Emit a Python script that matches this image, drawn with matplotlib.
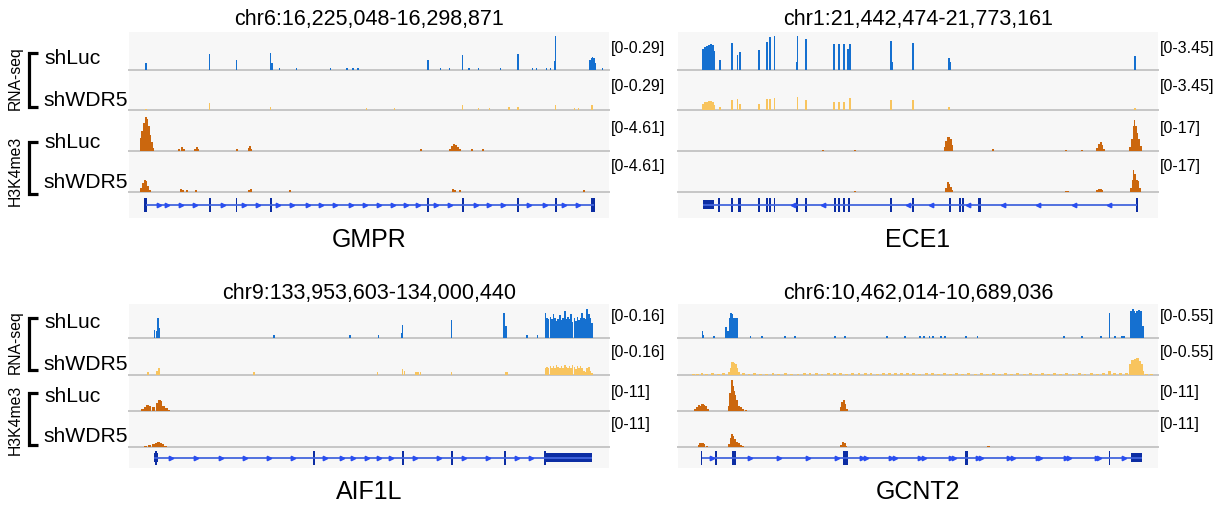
import matplotlib
matplotlib.use("Agg")
import matplotlib.pyplot as plt
from matplotlib.patches import Rectangle

plt.rcParams['font.family'] = ['Liberation Sans', 'DejaVu Sans']

# ---------------- data ----------------
REGIONS = ["chr6:16,225,048-16,298,871", "chr1:21,442,474-21,773,161",
           "chr9:133,953,603-134,000,440", "chr6:10,462,014-10,689,036"]
GENES = ["GMPR", "ECE1", "AIF1L", "GCNT2"]
SAMPLES = ["shLuc", "shWDR5"]
ASSAYS = ["RNA-seq", "H3K4me3"]
RNA_MAX = [0.29, 3.45, 0.16, 0.55]
CHIP_MAX = [4.61, 17, 11, 11]
RNA_LABELS = ["[0-0.29]", "[0-3.45]", "[0-0.16]", "[0-0.55]"]
CHIP_LABELS = ["[0-4.61]", "[0-17]", "[0-11]", "[0-11]"]

# signal tracks: (position in % of window, value)
GMPR_RNA_SHLUC = [(3.5, 0.052), (16.8, 0.122), (22.4, 0.078), (29.5, 0.130), (29.8, 0.05),
                  (31.3, 0.018), (34.9, 0.015), (42.0, 0.015), (45.4, 0.015), (46.7, 0.015),
                  (47.7, 0.015), (62.3, 0.078), (64.9, 0.015), (66.8, 0.015), (69.5, 0.116),
                  (70.8, 0.018), (72.8, 0.016), (77.4, 0.015), (81.0, 0.122), (84.1, 0.016),
                  (84.9, 0.016), (87.0, 0.016), (87.8, 0.018), (88.6, 0.07), (88.9, 0.258),
                  (96.0, 0.08), (96.3, 0.095), (96.6, 0.097), (96.9, 0.09), (97.2, 0.05),
                  (98.7, 0.015)]
GMPR_RNA_SHWDR5 = [(3.5, 0.01), (16.8, 0.049), (29.5, 0.025), (49.5, 0.014), (55.3, 0.014),
                   (69.5, 0.035), (72.8, 0.015), (75.1, 0.015), (79.2, 0.02), (81.0, 0.025),
                   (88.9, 0.038), (92.8, 0.014), (93.6, 0.014), (96.5, 0.035)]
GMPR_CHIP_SHLUC = [(2.5, 1.43), (2.8, 2.3), (3.1, 3.2), (3.5, 3.83), (3.8, 3.6), (4.1, 2.77),
                   (4.4, 1.84), (4.8, 1.0), (5.1, 0.32), (10.5, 0.28), (11.0, 0.46),
                   (11.5, 0.23), (13.7, 0.23), (14.1, 0.46), (14.4, 0.18), (22.4, 0.2),
                   (24.9, 0.37), (25.2, 0.6), (25.5, 0.23), (60.9, 0.18), (66.8, 0.28),
                   (67.2, 0.55), (67.7, 0.78), (68.1, 0.69), (68.5, 0.46), (68.9, 0.23),
                   (71.4, 0.2), (73.8, 0.18)]
GMPR_CHIP_SHWDR5 = [(2.6, 0.46), (3.0, 1.0), (3.3, 1.38), (3.6, 1.29), (4.0, 0.69), (4.3, 0.28),
                    (10.9, 0.37), (11.3, 0.23), (12.1, 0.18), (13.9, 0.18), (25.0, 0.23),
                    (25.4, 0.37), (33.5, 0.2), (67.5, 0.32), (67.9, 0.28), (68.9, 0.18),
                    (94.8, 0.2)]

ECE1_RNA_SHLUC = [(5.3, 1.9), (5.7, 2.07), (6.1, 2.2), (6.5, 2.28), (6.9, 2.35), (7.3, 2.28),
                  (7.6, 1.72), (8.7, 0.93), (11.2, 2.48), (12.4, 1.35), (12.9, 1.66),
                  (16.9, 1.79), (18.5, 2.52), (19.2, 2.97), (20.1, 3.1), (24.7, 0.69),
                  (24.9, 3.1), (26.6, 2.83), (32.5, 2.35), (33.6, 2.35), (34.6, 2.35),
                  (35.5, 1.9), (35.8, 2.35), (44.4, 2.59), (44.6, 0.69), (49.0, 2.48),
                  (56.4, 1.1), (56.7, 0.69), (95.3, 1.24)]
ECE1_RNA_SHWDR5 = [(5.3, 0.52), (5.7, 0.66), (6.1, 0.72), (6.5, 0.76), (6.9, 0.76), (7.3, 0.69),
                   (7.6, 0.41), (8.7, 0.28), (11.2, 0.86), (12.4, 0.97), (12.9, 0.48),
                   (16.9, 0.55), (18.5, 0.93), (19.2, 0.97), (20.1, 1.04), (24.9, 1.1),
                   (26.6, 0.83), (32.5, 0.69), (33.6, 0.69), (34.6, 0.69), (35.8, 1.0),
                   (44.4, 0.83), (49.0, 0.86), (56.4, 0.28), (95.3, 0.21)]
ECE1_CHIP_SHLUC = [(30.3, 0.5), (36.9, 0.5), (55.6, 1.7), (55.9, 4.25), (56.2, 5.6),
                   (56.5, 5.8), (56.8, 5.1), (57.1, 2.55), (65.7, 0.85), (80.9, 0.55),
                   (84.1, 0.55), (87.3, 1.36), (87.8, 3.06), (88.1, 3.57), (88.4, 2.55),
                   (88.8, 1.0), (94.1, 1.7), (94.5, 5.1), (94.9, 10.2), (95.1, 12.75),
                   (95.4, 10.2), (95.7, 7.65), (96.1, 5.1), (96.4, 2.04)]
ECE1_CHIP_SHWDR5 = [(36.9, 0.45), (55.9, 1.7), (56.2, 4.25), (56.5, 3.4), (56.8, 2.04),
                    (57.1, 0.85), (80.9, 0.55), (81.3, 0.55), (87.3, 0.68), (87.8, 1.2),
                    (88.1, 1.2), (88.4, 0.85), (94.4, 1.7), (94.7, 5.1), (94.9, 9.2),
                    (95.3, 7.65), (95.6, 5.1), (95.9, 4.76), (96.2, 1.7)]

AIF1L_RNA_SHLUC = [(5.3, 0.04), (5.7, 0.035), (6.1, 0.096), (6.3, 0.048), (30.2, 0.014),
                   (46.1, 0.014), (52.0, 0.014), (56.8, 0.024), (57.0, 0.059), (67.2, 0.086),
                   (78.1, 0.117), (78.5, 0.056), (82.9, 0.014), (85.1, 0.014),
                   (86.8, 0.12), (87.1, 0.096), (87.4, 0.088), (87.8, 0.099), (88.1, 0.088),
                   (88.4, 0.112), (88.8, 0.093), (89.1, 0.08), (89.4, 0.088), (89.8, 0.109),
                   (90.1, 0.083), (90.4, 0.096), (90.8, 0.125), (91.1, 0.09), (91.4, 0.099),
                   (91.8, 0.088), (92.1, 0.115), (92.4, 0.077), (92.8, 0.096), (93.1, 0.08),
                   (93.4, 0.099), (93.8, 0.083), (94.1, 0.093), (94.4, 0.12), (94.8, 0.096),
                   (95.1, 0.088), (95.4, 0.136), (95.8, 0.112), (96.1, 0.096), (96.4, 0.072)]
AIF1L_RNA_SHWDR5 = [(3.9, 0.014), (5.8, 0.019), (6.3, 0.03), (26.1, 0.014), (51.8, 0.014),
                    (57.0, 0.024), (57.4, 0.016), (59.8, 0.014), (60.2, 0.014), (60.7, 0.014),
                    (67.2, 0.012), (78.4, 0.014), (78.7, 0.014),
                    (86.8, 0.032), (87.1, 0.035), (87.4, 0.029), (87.8, 0.04), (88.1, 0.032),
                    (88.4, 0.037), (88.8, 0.03), (89.1, 0.042), (89.4, 0.034), (89.8, 0.029),
                    (90.1, 0.038), (90.4, 0.032), (90.8, 0.043), (91.1, 0.035), (91.4, 0.03),
                    (91.8, 0.04), (92.1, 0.032), (92.4, 0.042), (92.8, 0.035), (93.1, 0.027),
                    (93.4, 0.037), (93.8, 0.032), (94.1, 0.04), (94.4, 0.03), (94.8, 0.016),
                    (95.1, 0.013), (95.4, 0.032), (95.8, 0.035), (96.1, 0.016), (96.4, 0.01)]
AIF1L_CHIP_SHLUC = [(2.8, 0.55), (3.3, 1.32), (3.9, 1.98), (4.4, 1.43), (5.1, 1.32), (5.8, 2.42),
                    (6.3, 3.3), (6.7, 3.08), (7.2, 1.65), (7.8, 0.88), (8.2, 0.33)]
AIF1L_CHIP_SHWDR5 = [(3.5, 0.33), (4.3, 0.55), (5.1, 0.77), (5.6, 1.21), (6.1, 1.54),
                     (6.6, 1.32), (7.1, 0.77), (7.6, 0.33)]

GCNT2_RNA_SHLUC = [(5.1, 0.12), (5.3, 0.055), (7.5, 0.03), (10.0, 0.18), (10.4, 0.11),
                   (10.8, 0.33), (11.1, 0.41), (11.3, 0.385), (11.6, 0.33), (12.0, 0.32),
                   (12.3, 0.33), (15.1, 0.03), (17.5, 0.03), (22.3, 0.03), (24.3, 0.03),
                   (32.7, 0.03), (34.8, 0.03), (43.6, 0.03), (47.2, 0.03), (50.4, 0.03),
                   (51.2, 0.03), (52.4, 0.03), (53.2, 0.03), (54.8, 0.03), (55.6, 0.03),
                   (60.0, 0.03), (62.4, 0.03), (80.5, 0.03), (84.1, 0.03), (88.1, 0.03),
                   (89.9, 0.41), (91.0, 0.03), (92.5, 0.03), (92.9, 0.03), (94.3, 0.44),
                   (94.7, 0.47), (95.1, 0.44), (95.4, 0.41), (95.7, 0.43), (96.1, 0.46),
                   (96.5, 0.44), (96.8, 0.19)]
GCNT2_RNA_SHWDR5 = [(3.2, 0.016), (4.0, 0.020), (5.0, 0.024), (6.0, 0.020), (7.2, 0.028),
                    (8.4, 0.020), (9.5, 0.024), (10.8, 0.05), (11.1, 0.11), (11.3, 0.20),
                    (11.6, 0.18), (12.0, 0.165), (12.3, 0.11), (12.7, 0.04), (13.6, 0.024),
                    (14.8, 0.020), (16.0, 0.024), (17.2, 0.020), (18.5, 0.016), (19.8, 0.024),
                    (21.0, 0.020), (22.4, 0.024), (23.7, 0.020), (25.0, 0.016), (26.3, 0.024),
                    (27.5, 0.028), (28.8, 0.024), (30.0, 0.020), (31.3, 0.024), (32.6, 0.028),
                    (33.9, 0.024), (35.1, 0.020), (36.4, 0.024), (37.7, 0.028), (39.0, 0.024),
                    (40.2, 0.024), (41.5, 0.020), (42.8, 0.028), (44.0, 0.024), (45.3, 0.024),
                    (46.6, 0.028), (47.9, 0.024), (49.1, 0.024), (50.4, 0.020), (51.7, 0.028),
                    (53.0, 0.024), (54.2, 0.020), (55.5, 0.024), (56.8, 0.020), (58.1, 0.024),
                    (59.3, 0.020), (60.6, 0.024), (61.9, 0.020), (63.2, 0.024), (64.4, 0.016),
                    (65.7, 0.024), (67.0, 0.020), (68.3, 0.024), (69.5, 0.020), (70.8, 0.024),
                    (72.1, 0.020), (73.4, 0.024), (74.6, 0.020), (75.9, 0.024), (77.2, 0.020),
                    (78.5, 0.024), (79.7, 0.020), (81.0, 0.024), (82.3, 0.020), (83.6, 0.024),
                    (84.8, 0.020), (86.1, 0.024), (87.4, 0.020), (88.7, 0.028), (89.9, 0.066),
                    (91.0, 0.024), (92.2, 0.028), (93.4, 0.035), (94.3, 0.165), (94.7, 0.22),
                    (95.1, 0.19), (95.4, 0.24), (95.7, 0.25), (96.1, 0.21), (96.5, 0.165),
                    (96.8, 0.055), (97.6, 0.020), (98.6, 0.020)]
GCNT2_CHIP_SHLUC = [(3.5, 0.55), (3.9, 1.32), (4.3, 1.98), (4.7, 1.65), (5.1, 2.09), (5.5, 1.87),
                    (5.9, 1.54), (6.3, 0.55), (10.7, 1.65), (10.9, 5.5), (11.2, 9.35),
                    (11.4, 7.7), (11.6, 6.05), (11.9, 4.95), (12.2, 3.3), (12.7, 1.65),
                    (13.2, 1.1), (13.6, 0.66), (14.1, 0.33), (33.9, 1.1), (34.2, 2.75),
                    (34.5, 3.3), (34.8, 2.2), (35.1, 0.55)]
GCNT2_CHIP_SHWDR5 = [(4.3, 0.66), (4.7, 1.1), (5.1, 1.1), (5.5, 0.99), (6.0, 0.44), (10.7, 0.88),
                     (11.0, 2.75), (11.2, 4.07), (11.5, 3.3), (11.9, 2.42), (12.3, 1.65),
                     (12.7, 1.1), (13.2, 0.55), (13.5, 0.33), (34.0, 0.66), (34.3, 1.54),
                     (34.7, 1.32), (35.0, 0.44), (64.7, 0.3)]

# gene models: span, strand, exons (start%, end%, kind c=coding u=utr), intron arrows
GMPR_SPAN, GMPR_STRAND = (3.5, 96.9), ">"
GMPR_EXONS = [(3.2, 3.8, "c"), (16.6, 17.0, "c"), (22.2, 22.6, "c"), (29.3, 29.7, "c"),
              (62.1, 62.5, "c"), (69.3, 69.7, "c"), (80.8, 81.2, "c"), (88.7, 89.1, "c"),
              (96.2, 97.0, "c")]
GMPR_ARROWS = [6.3, 8.0, 10.9, 13.7, 19.5, 24.0, 26.9, 31.0, 33.9, 37.2, 40.1, 43.0, 46.3,
               49.1, 52.0, 54.9, 57.8, 60.2, 64.0, 66.8, 72.2, 75.1, 77.9, 83.3, 86.6, 90.7,
               93.6]
ECE1_SPAN, ECE1_STRAND = (5.3, 95.6), "<"
ECE1_EXONS = [(5.3, 7.6, "u"), (8.3, 8.7, "c"), (11.0, 11.4, "c"), (12.4, 13.2, "c"),
              (16.7, 17.1, "c"), (18.3, 18.7, "c"), (19.0, 19.4, "c"), (19.9, 20.3, "c"),
              (24.5, 24.9, "c"), (26.4, 26.8, "c"), (32.5, 32.9, "c"), (33.3, 33.7, "c"),
              (34.4, 34.8, "c"), (35.5, 35.9, "c"), (44.2, 44.6, "c"), (48.7, 49.1, "c"),
              (56.5, 56.9, "c"), (58.6, 59.0, "c"), (59.2, 59.5, "c"), (62.4, 63.2, "c"),
              (95.4, 95.8, "c")]
ECE1_ARROWS = [24.0, 30.3, 48.0, 52.8, 60.4, 67.7, 74.9, 82.5, 89.7]
AIF1L_SPAN, AIF1L_STRAND = (5.3, 96.5), ">"
AIF1L_EXONS = [(5.3, 6.1, "u"), (5.5, 5.9, "c"), (38.4, 38.8, "c"), (56.8, 57.2, "c"),
               (67.0, 67.4, "c"), (78.2, 78.6, "c"), (86.4, 86.9, "c"), (86.6, 96.5, "u")]
AIF1L_ARROWS = [8.8, 13.9, 19.1, 24.2, 29.1, 34.2, 40.9, 44.3, 46.7, 49.5, 52.0, 54.5, 59.6,
                64.5, 69.7, 74.8, 80.8, 83.7]
GCNT2_SPAN, GCNT2_STRAND = (4.9, 96.6), ">"
GCNT2_EXONS = [(4.8, 5.1, "c"), (7.8, 8.1, "c"), (11.2, 12.1, "c"), (34.3, 35.4, "c"),
               (59.8, 60.5, "c"), (89.8, 90.1, "c"), (94.4, 96.6, "u")]
GCNT2_ARROWS = [7.0, 15.1, 21.1, 27.1, 33.1, 38.3, 39.2, 44.4, 45.2, 50.4, 51.2, 56.8, 57.5,
                62.4, 63.2, 68.9, 69.7, 74.9, 75.5, 80.9, 81.5, 87.2, 87.8, 92.9]

# ---------------- style / layout ----------------
W, H = 1223, 505
PW = 480
BG = "#f7f7f7"
BASE = "#c6c6c6"
BLUE, YELLOW, ORANGE = "#1570d0", "#f8c45e", "#cb670e"
EXON, INTRON, ARROW = "#0c2da3", "#4466dd", "#2a4ef0"

ROWS = [dict(top=32, bases=[70, 110, 151, 192], gbot=218, title_y=20, name_y=240,
             range_y=[48, 87, 129, 166], sample_y=[59, 100, 143, 183], assay_y=[78, 171],
             brackets=[(53, 107), (142, 194)]),
        dict(top=304, bases=[338, 375, 411, 447], gbot=468, title_y=293, name_y=492,
             range_y=[317, 353, 392, 425], sample_y=[323, 365, 396, 437], assay_y=[342, 420],
             brackets=[(318, 370), (393, 445)])]
PANEL_X = [129, 678, 129, 678]
PANEL_ROW = [0, 0, 1, 1]

TRACKS = [
    [GMPR_RNA_SHLUC, GMPR_RNA_SHWDR5, GMPR_CHIP_SHLUC, GMPR_CHIP_SHWDR5],
    [ECE1_RNA_SHLUC, ECE1_RNA_SHWDR5, ECE1_CHIP_SHLUC, ECE1_CHIP_SHWDR5],
    [AIF1L_RNA_SHLUC, AIF1L_RNA_SHWDR5, AIF1L_CHIP_SHLUC, AIF1L_CHIP_SHWDR5],
    [GCNT2_RNA_SHLUC, GCNT2_RNA_SHWDR5, GCNT2_CHIP_SHLUC, GCNT2_CHIP_SHWDR5],
]
BAR_W = [[0.3, 0.3, 0.42, 0.42], [0.4, 0.4, 0.4, 0.4], [0.33, 0.33, 0.55, 0.55],
         [0.4, 0.6, 0.45, 0.45]]
GENE_MODELS = [
    (GMPR_SPAN, GMPR_STRAND, GMPR_EXONS, GMPR_ARROWS),
    (ECE1_SPAN, ECE1_STRAND, ECE1_EXONS, ECE1_ARROWS),
    (AIF1L_SPAN, AIF1L_STRAND, AIF1L_EXONS, AIF1L_ARROWS),
    (GCNT2_SPAN, GCNT2_STRAND, GCNT2_EXONS, GCNT2_ARROWS),
]

fig = plt.figure(figsize=(W / 100, H / 100), dpi=100)


def ax_px(x, y_top, w, h):
    return fig.add_axes([x / W, 1 - (y_top + h) / H, w / W, h / H])


for p in range(4):
    row = ROWS[PANEL_ROW[p]]
    x0 = PANEL_X[p]
    top = row["top"]
    bg = ax_px(x0, top, PW, row["gbot"] - top)
    bg.set_facecolor(BG)
    for s in bg.spines.values():
        s.set_visible(False)
    bg.set_xticks([]); bg.set_yticks([])

    edges = [top] + row["bases"]
    colors = [BLUE, YELLOW, ORANGE, ORANGE]
    maxes = [RNA_MAX[p], RNA_MAX[p], CHIP_MAX[p], CHIP_MAX[p]]
    for k in range(4):
        ax = ax_px(x0, edges[k], PW, edges[k + 1] - edges[k])
        data = TRACKS[p][k]
        ax.axhline(0, color=BASE, lw=1.4, clip_on=False, zorder=0.5)
        ax.bar([d[0] for d in data], [d[1] for d in data], width=BAR_W[p][k],
               color=colors[k], linewidth=0, align="center", zorder=2)
        ax.set_xlim(0, 100)
        ax.set_ylim(0, maxes[k])
        ax.axis("off")

    # gene track
    gh = row["gbot"] - row["bases"][-1]
    gax = ax_px(x0, row["bases"][-1], PW, gh)
    gax.set_xlim(0, 100)
    gax.set_ylim(-gh / 2, gh / 2)
    gax.axis("off")
    span, strand, exons, arrows = GENE_MODELS[p]
    gax.plot(span, [0, 0], color=INTRON, lw=1.3, solid_capstyle="butt")
    gax.plot(arrows, [0] * len(arrows), linestyle="none", marker=strand, ms=3.2,
             color=ARROW, mec=ARROW)
    for (a, b, kind) in exons:
        hh = 7 if kind == "c" else 4.5
        gax.add_patch(Rectangle((a, -hh), b - a, 2 * hh, color=EXON, lw=0))

# overlay for text in pixel coordinates
ov = fig.add_axes([0, 0, 1, 1])
ov.set_xlim(0, W)
ov.set_ylim(H, 0)
ov.axis("off")

for p in range(4):
    row = ROWS[PANEL_ROW[p]]
    x0 = PANEL_X[p]
    ov.text(x0 + PW / 2, row["title_y"], REGIONS[p], ha="center", va="center", fontsize=15.5)
    ov.text(x0 + PW / 2, row["name_y"], GENES[p], ha="center", va="center", fontsize=18)
    labels = [RNA_LABELS[p], RNA_LABELS[p], CHIP_LABELS[p], CHIP_LABELS[p]]
    for k in range(4):
        ov.text(x0 + PW + 2, row["range_y"][k], labels[k], ha="left", va="center",
                fontsize=11.5)

for row in ROWS:
    for k in range(4):
        ov.text(44 if k % 2 == 0 else 43, row["sample_y"][k], SAMPLES[k % 2], ha="left",
                va="center", fontsize=15.2)
    for j in range(2):
        ov.text(15, row["assay_y"][j], ASSAYS[j], ha="center", va="center", rotation=90,
                fontsize=11.3)
        y1, y2 = row["brackets"][j]
        ov.plot([38, 29, 29, 38], [y1, y1, y2, y2], color="black", lw=2.3,
                solid_joinstyle="miter", solid_capstyle="butt")

fig.savefig("out.png", dpi=100)
